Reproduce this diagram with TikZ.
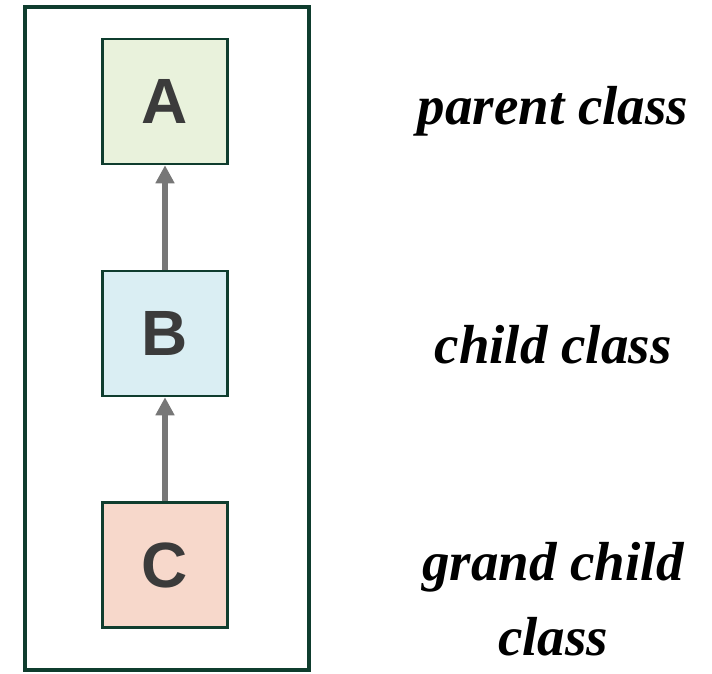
\documentclass[tikz,border=0pt]{standalone}
\usepackage{fontspec}
\setmainfont{Liberation Serif}
\newfontfamily\boxfont{Liberation Sans}
\usetikzlibrary{arrows.meta}
\definecolor{frameg}{HTML}{0F3D2E}
\definecolor{fillA}{HTML}{E9F2DC}
\definecolor{fillB}{HTML}{DAEEF3}
\definecolor{fillC}{HTML}{F7D8CB}
\definecolor{letterg}{HTML}{3B3B3B}
\definecolor{arrowg}{HTML}{777777}
\tikzset{
  classbox/.style={draw=frameg, line width=2.5pt, minimum width=125pt, minimum height=125pt,
    inner sep=0pt, font=\boxfont\bfseries\fontsize{64}{64}\selectfont, text=letterg},
  inherit/.style={draw=arrowg, line width=6pt, -{Triangle[length=18pt,width=18pt]}},
  lbl/.style={font=\bfseries\itshape\fontsize{55}{75}\selectfont, anchor=base, inner sep=0pt, align=center}
}
\begin{document}
\begin{tikzpicture}[x=1pt,y=-1pt]
\useasboundingbox (0,0) rectangle (712,674);
\draw[frameg, line width=4pt] (25,7) rectangle (309,670);
\node[classbox, fill=fillA] (A) at (165,101.5) {A};
\node[classbox, fill=fillB] (B) at (165,333.5) {B};
\node[classbox, fill=fillC] (C) at (165,565) {C};
\draw[inherit] (B.north) -- (A.south);
\draw[inherit] (C.north) -- (B.south);
\node[lbl] (pa) at (553,125) {parent class};
\node[lbl] (ch) at (553,363) {child class};
\node[lbl] (gc) at (553,580) {grand child};
\node[lbl] (cl) at (553,655) {class};
\end{tikzpicture}
\end{document}
